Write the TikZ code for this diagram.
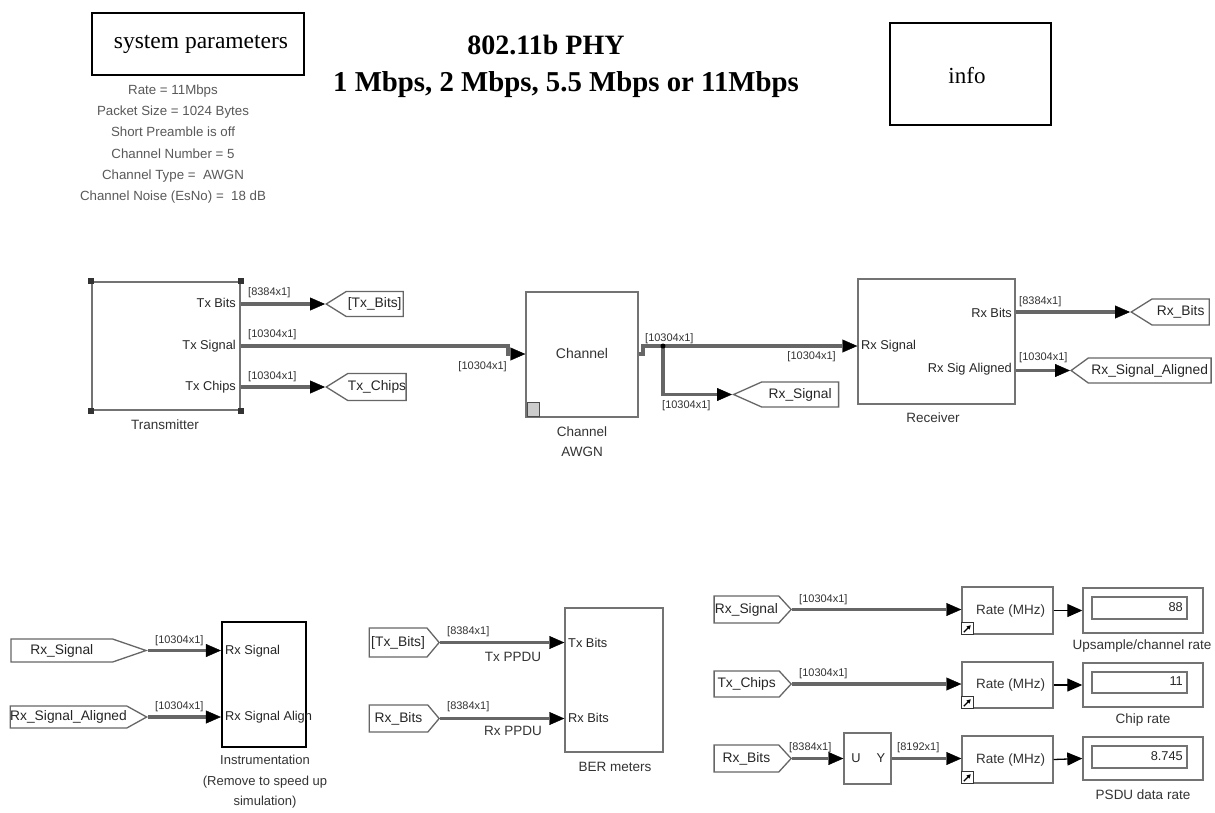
\documentclass[tikz,border=0pt]{standalone}
\usepackage{fontspec}
\setmainfont{Liberation Serif}
\setsansfont{Liberation Sans}
\usetikzlibrary{arrows.meta,shapes.symbols}
\tikzset{
  every node/.style={font=\sffamily},
  blk/.style={draw=black!55, line width=1.4pt, inner sep=0pt, fill=white},
  port/.style={font=\sffamily\fontsize{12.8}{14}\selectfont, text=black!85, inner sep=0pt},
  captxt/.style={font=\sffamily\fontsize{13.5}{15}\selectfont, text=black!80, inner sep=0pt},
  slab/.style={font=\sffamily\fontsize{11}{12}\selectfont, text=black!80, inner sep=0pt},
  tagbase/.style={shape=signal, draw=black!60, line width=1.3pt, inner sep=0pt, fill=white,
    font=\sffamily\fontsize{13.8}{15}\selectfont, text=black!85},
  gotag/.style={tagbase, signal to=west},
  fromtag/.style={tagbase, signal to=east},
  sig/.style={draw=black!60, line width=3.2pt, -{Triangle[length=15pt,width=13pt,line width=0.4pt,color=black]}},
  signo/.style={draw=black!60, line width=3.2pt},
  thinarr/.style={draw=black, line width=1.3pt, -{Triangle[length=15pt,width=13pt]}},
}
\begin{document}
\begin{tikzpicture}[x=1pt,y=-1pt]
\path[use as bounding box, fill=white] (0,0) rectangle (1215,812);

% ---------- header ----------
\node[draw=black, line width=1.5pt, minimum width=212, minimum height=62, inner sep=0pt,
      font=\rmfamily\fontsize{23.5}{26}\selectfont] (sp) at (198,44) {\hspace{6pt}system parameters};
\node[align=center, text=black!65, font=\sffamily\fontsize{13.3}{21.2}\selectfont] (par) at (173,144)
  {Rate = 11Mbps\\Packet Size = 1024 Bytes\\Short Preamble is off\\Channel Number = 5\\Channel Type =\ \ AWGN\\Channel Noise (EsNo) =\ \ 18 dB};
\node[font=\rmfamily\bfseries\fontsize{28}{32}\selectfont] (t1) at (546,45) {802.11b PHY};
\node[font=\rmfamily\bfseries\fontsize{28.8}{32}\selectfont] (t2) at (566,85) {1 Mbps, 2 Mbps, 5.5 Mbps or 11Mbps};
\node[draw=black, line width=1.5pt, minimum width=161, minimum height=102, inner sep=0pt,
      font=\rmfamily\fontsize{23}{26}\selectfont] (info) at (970.5,74) {};
\node[font=\rmfamily\fontsize{23}{26}\selectfont, inner sep=0pt] (infot) at (967,76) {info};

% ---------- transmitter ----------
\node[blk, minimum width=148, minimum height=128, line width=1.6pt] (tx) at (166,346) {};
\foreach \a in {north west, north east, south west, south east}
  \fill[black!80] (tx.\a) ++(-3,-3) rectangle ++(6,6);
\node[port, anchor=east] (txp1) at (236,303) {Tx Bits};
\node[port, anchor=east] (txp2) at (236,346) {Tx Signal};
\node[port, anchor=east] (txp3) at (236,387) {Tx Chips};
\node[captxt] (txc) at (165,425) {Transmitter};

\node[gotag, signal pointer angle=64, minimum width=77, minimum height=25, anchor=west] (tbt) at (325,304) {[Tx\_Bits]};
\node[gotag, signal pointer angle=64, minimum width=77, minimum height=27, anchor=west] (tct) at (325,387) {Tx\_Chips};

% ---------- channel ----------
\node[blk, minimum width=112, minimum height=125] (ch) at (582,354.5) {};
\node[captxt, font=\sffamily\fontsize{14}{15}\selectfont] (cht) at (582,353) {Channel};
\node[draw=black!70, line width=1pt, fill=black!20, minimum width=12, minimum height=14, inner sep=0pt] (chi) at (533.5,409) {};
\node[captxt, align=center, font=\sffamily\fontsize{13.5}{20}\selectfont] (chc) at (582,442) {Channel\\AWGN};

% ---------- receiver ----------
\node[blk, minimum width=157, minimum height=125] (rx) at (936.5,341.5) {};
\node[port, anchor=west] (rxp1) at (861,346) {Rx Signal};
\node[port, anchor=east] (rxp2) at (1012,313) {Rx Bits};
\node[port, anchor=east] (rxp3) at (1012,369) {Rx Sig Aligned};
\node[captxt] (rxc) at (933,418) {Receiver};

\node[gotag, signal pointer angle=48, minimum width=105, minimum height=25, anchor=west] (rst) at (732,394.5) {Rx\_Signal};
\node[gotag, signal pointer angle=64, minimum width=78, minimum height=26, anchor=west] (rbt) at (1130,312) {Rx\_Bits};
\node[gotag, signal pointer angle=72, minimum width=140, minimum height=25, anchor=west] (rsat) at (1070,370.5) {Rx\_Signal\_Aligned};

% ---------- top connectors ----------
\coordinate (tsj1) at (508,346);
\coordinate (tsj2) at (508,354);
\coordinate (coj1) at (643,354);
\coordinate (coj2) at (643,346);
\coordinate (br) at (663,346);
\draw[sig] (tx.east |- tbt) -- (tbt.west);
\draw[sig] (tx.east |- tct) -- (tct.west);
\draw[sig] (tx.east |- tsj1) -- (tsj1) -- (tsj2) -- (ch.west |- tsj2);
\draw[signo] (ch.east |- coj1) -- (coj1) -- (coj2) -- (br);
\draw[sig] (br) -- (rx.west |- br);
\draw[sig] (br) |- (rst.west);
\fill[black] (br) circle (2.5);
\draw[sig] (rx.east |- rbt) -- (rbt.west);
\draw[sig] (rx.east |- rsat) -- (rsat.west);

\node[slab, anchor=west] (l1) at (248,293) {[8384x1]};
\node[slab, anchor=west] (l2) at (248,335) {[10304x1]};
\node[slab, anchor=west] (l3) at (248,377) {[10304x1]};
\node[slab, anchor=east] (l4) at (507,367) {[10304x1]};
\node[slab, anchor=west] (l5) at (645,339) {[10304x1]};
\node[slab, anchor=east] (l6) at (836,357) {[10304x1]};
\node[slab, anchor=west] (l7) at (662,406) {[10304x1]};
\node[slab, anchor=west] (l8) at (1019,302) {[8384x1]};
\node[slab, anchor=west] (l9) at (1019,358) {[10304x1]};

% ---------- instrumentation ----------
\node[fromtag, signal pointer angle=38, minimum width=135, minimum height=23, anchor=east] (fRs) at (148,650.5) {Rx\_Signal};
\node[fromtag, signal pointer angle=58, minimum width=135, minimum height=22, anchor=east] (fRsa) at (148,717) {Rx\_Signal\_Aligned};
\node[draw=black, line width=2.2pt, minimum width=84, minimum height=125, inner sep=0pt] (ins) at (264,684.5) {};
\node[port, anchor=west] (insp1) at (225,651) {Rx Signal};
\node[port, anchor=west] (insp2) at (225,717) {Rx Signal Align};
\node[captxt, align=center, font=\sffamily\fontsize{13}{20.5}\selectfont] (insc) at (265,782) {Instrumentation\\(Remove to speed up\\simulation)};
\draw[sig] (fRs.east) -- (ins.west |- fRs.east);
\draw[sig] (fRsa.east) -- (ins.west |- fRsa.east);
\node[slab, anchor=west] (l10) at (155,641) {[10304x1]};
\node[slab, anchor=west] (l11) at (155,707) {[10304x1]};

% ---------- BER meters ----------
\node[fromtag, signal pointer angle=100, minimum width=70, minimum height=29, anchor=east] (fTb) at (440,642.5) {[Tx\_Bits]};
\node[fromtag, signal pointer angle=100, minimum width=70, minimum height=27, anchor=east] (fRb) at (440,718.5) {Rx\_Bits};
\node[blk, minimum width=98, minimum height=144] (ber) at (614,680) {};
\node[port, anchor=west] (berp1) at (568,643) {Tx Bits};
\node[port, anchor=west] (berp2) at (568,718) {Rx Bits};
\node[captxt] (berc) at (615,767) {BER meters};
\draw[sig] (fTb.east) -- (ber.west |- fTb.east);
\draw[sig] (fRb.east) -- (ber.west |- fRb.east);
\node[slab, anchor=west] (l12) at (447,632) {[8384x1]};
\node[slab, anchor=west] (l13) at (447,707) {[8384x1]};
\node[captxt] (tpp) at (513,657) {Tx PPDU};
\node[captxt] (rpp) at (513,731) {Rx PPDU};

% ---------- rate meters ----------
\node[fromtag, signal pointer angle=95, minimum width=77, minimum height=27, anchor=east] (fRs2) at (792,609.5) {Rx\_Signal};
\node[fromtag, signal pointer angle=95, minimum width=77, minimum height=26, anchor=east] (fTc) at (792,684) {Tx\_Chips};
\node[fromtag, signal pointer angle=95, minimum width=77, minimum height=27, anchor=east] (fRb2) at (792,758.5) {Rx\_Bits};

\node[blk, minimum width=47, minimum height=51] (uy) at (867.5,758.5) {};
\node[port] (uyu) at (856,758) {U};
\node[port] (uyy) at (881,758) {Y};

\node[blk, minimum width=91, minimum height=47] (r1) at (1007.5,610.5) {};
\node[blk, minimum width=91, minimum height=46] (r2) at (1007.5,685) {};
\node[blk, minimum width=91, minimum height=47] (r3) at (1007.5,759.5) {};
\foreach \n in {r1,r2,r3}{
  \node[captxt] (\n t) at ([xshift=3pt]\n.center) {Rate (MHz)};
  \draw[black!80, line width=1pt, fill=white] (\n.south west) rectangle ++(12,-12);
  \draw[black, line width=1.2pt, -{Triangle[length=4pt,width=4pt]}] ([xshift=2.5pt,yshift=2.5pt]\n.south west) -- ++(7,-7);
}

\node[blk, minimum width=120, minimum height=45] (d1) at (1143,610.5) {};
\node[blk, minimum width=120, minimum height=44] (d2) at (1143,685) {};
\node[blk, minimum width=120, minimum height=43] (d3) at (1143,758.5) {};
\node[blk, line width=1.2pt, minimum width=95, minimum height=22] (d1i) at (1139.5,608) {};
\node[blk, line width=1.2pt, minimum width=95, minimum height=21] (d2i) at (1139.5,682.5) {};
\node[blk, line width=1.2pt, minimum width=95, minimum height=22] (d3i) at (1139.5,757) {};
\node[port, anchor=east] (v1) at (1183,607) {88};
\node[port, anchor=east] (v2) at (1183,681) {11};
\node[port, anchor=east] (v3) at (1183,756) {8.745};
\node[captxt] (d1c) at (1142,646) {Upsample/channel rate};
\node[captxt] (d2c) at (1143,720) {Chip rate};
\node[captxt] (d3c) at (1143,795) {PSDU data rate};

\draw[sig] (fRs2.east) -- (r1.west |- fRs2.east);
\draw[sig] (fTc.east) -- (r2.west |- fTc.east);
\draw[sig] (fRb2.east) -- (uy.west |- fRb2.east);
\draw[sig] (uy.east |- fRb2.east) -- (r3.west |- fRb2.east);
\draw[thinarr] (r1.east) -- (d1.west);
\draw[thinarr] (r2.east) -- (d2.west);
\draw[thinarr] (r3.east) -- (d3.west);

\node[slab, anchor=west] (l14) at (799,600) {[10304x1]};
\node[slab, anchor=west] (l15) at (799,674) {[10304x1]};
\node[slab, anchor=west] (l16) at (789,748) {[8384x1]};
\node[slab, anchor=west] (l17) at (897,748) {[8192x1]};
\end{tikzpicture}
\end{document}
